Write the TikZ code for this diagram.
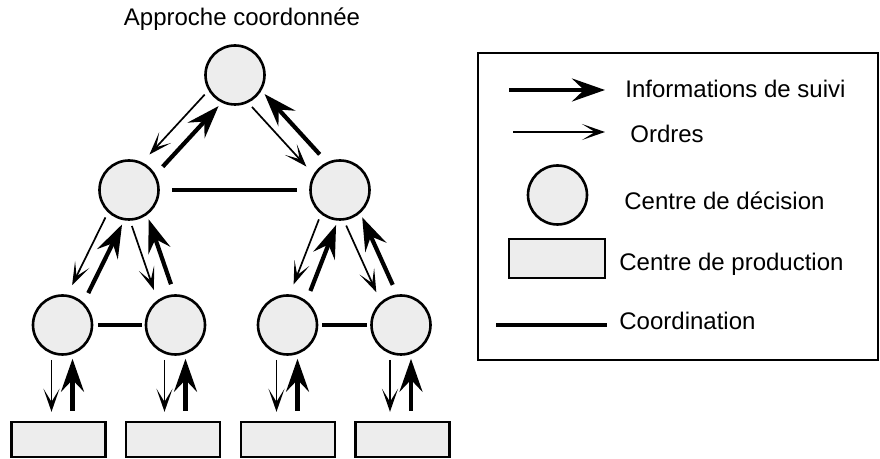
\documentclass[tikz,border=0pt]{standalone}
\usepackage{fontspec}
\setmainfont{Liberation Sans}
\usetikzlibrary{positioning,arrows.meta,calc,shapes}
\tikzset{
    decision/.style = {
        draw,
        shape=circle,
        minimum size=29.5pt,
        inner sep=0pt,
        line width=1.3pt,
        fill=black!7
    },
    production/.style = {
        draw,
        shape=rectangle,
        minimum width=47pt,
        minimum height=17.5pt,
        line width=1.2pt,
        fill=black!7
    },
    legende/.style = {
        draw,
        shape=rectangle,
        minimum width=200pt,
        minimum height=153.5pt,
        line width=1pt
    },
    suivi/.style = {-{Stealth[length=16.5pt,width=11.5pt,inset=6pt]}, line width=2.1pt},
    ordre/.style = {-{Stealth[length=11.5pt,width=8pt,inset=6.5pt]}, line width=0.85pt},
    coordination/.style = {line width=2.1pt},
    etiquette/.style = {anchor=base west, inner sep=0pt, font=\fontsize{12}{14}\selectfont},
}
% ordres du parent #1 vers le fils #2, informations de suivi en retour
\newcommand{\echange}[2]{
    \draw[ordre, shorten <=17.5pt, shorten >=20pt] ($(#1)!4.5pt!-90:(#2)$) -- ($(#2)!4.5pt!90:(#1)$);
    \draw[suivi, shorten <=20pt, shorten >=17pt] ($(#2)!4.5pt!-90:(#1)$) -- ($(#1)!4.5pt!90:(#2)$);
}

\begin{document}
\begin{tikzpicture}[x=0.5pt, y=-0.5pt]
    \useasboundingbox (0,0) rectangle (880,459);

    \node[etiquette, anchor=base] (titre) at (242,26) {Approche coordonnée};

    % centres de decision
    \node[decision] (dec0) at (235,75) {};
    \node[decision] (decA) at (129,190) {};
    \node[decision] (decB) at (340,190) {};
    \node[decision] (dec1) at (62.5,325) {};
    \node[decision] (dec2) at (175.5,325) {};
    \node[decision] (dec3) at (287.5,325) {};
    \node[decision] (dec4) at (401,325) {};

    % centres de production
    \node[production] (prod1) at (58.5,439.5) {};
    \node[production] (prod2) at (173,439.5) {};
    \node[production] (prod3) at (288,439.5) {};
    \node[production] (prod4) at (402.5,439.5) {};

    \foreach \p/\c in {dec0/decA, dec0/decB, decA/dec1, decA/dec2, decB/dec3, decB/dec4}{
        \echange{\p}{\c}
    }
    \foreach \i in {1,...,4}{
        \draw[ordre, shorten <=2pt, shorten >=4.5pt] ([xshift=-5.5pt]dec\i.south) -- ([xshift=-5.5pt]dec\i.south |- prod\i.north);
        \draw[suivi, shorten <=5pt, shorten >=1.5pt] ([xshift=5pt]dec\i.south |- prod\i.north) -- ([xshift=5pt]dec\i.south);
    }

    \draw[coordination, shorten <=6pt, shorten >=6pt] (decA) -- (decB);
    \draw[coordination, shorten <=2.5pt, shorten >=1.5pt] (dec1) -- (dec2);
    \draw[coordination, shorten <=2pt, shorten >=1.5pt] (dec3) -- (dec4);

    % legende
    \node[legende] (cadre) at (678,206.5) {};
    \coordinate (suiviA) at (509,90);
    \coordinate (suiviB) at (605,90);
    \coordinate (ordreA) at (513,132);
    \coordinate (ordreB) at (605,132);
    \coordinate (coordA) at (496,325);
    \coordinate (coordB) at (607,325);
    \node[decision] (legdec) at (557.5,195) {};
    \node[production, minimum width=48pt, minimum height=19.5pt] (legprod) at (557,258.5) {};

    \draw[suivi] (suiviA) -- (suiviB);
    \draw[ordre] (ordreA) -- (ordreB);
    \draw[coordination] (coordA) -- (coordB);

    \node[etiquette] (txtsuivi) at (625,98) {Informations de suivi};
    \node[etiquette] (txtordre) at (630,143) {Ordres};
    \node[etiquette] (txtdec) at (624,210) {Centre de décision};
    \node[etiquette] (txtprod) at (619,270.5) {Centre de production};
    \node[etiquette] (txtcoord) at (619,330) {Coordination};
\end{tikzpicture}
\end{document}
